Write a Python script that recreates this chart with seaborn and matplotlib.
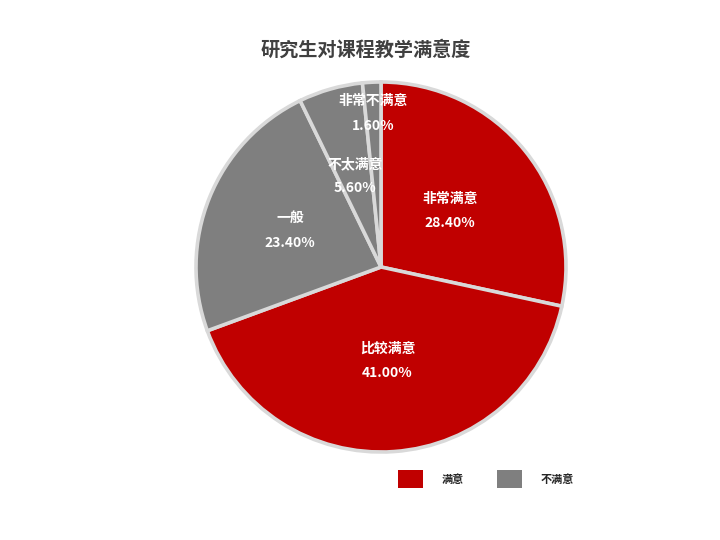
import matplotlib
matplotlib.use("Agg")
import matplotlib.pyplot as plt
import seaborn as sns
import numpy as np
from matplotlib.patches import Patch

categories = ["非常满意", "比较满意", "一般", "不太满意", "非常不满意"]
values = [28.4, 41.0, 23.4, 5.6, 1.6]
groups = ["满意", "满意", "不满意", "不满意", "不满意"]
legend_labels = ["满意", "不满意"]

sns.set_theme(style="white")
plt.rcParams['font.family'] = ['Noto Sans CJK SC', 'DejaVu Sans']

group_colors = {"满意": "#C00000", "不满意": "#7F7F7F"}
colors = [group_colors[g] for g in groups]

fig = plt.figure(figsize=(7.2, 5.4), dpi=100)
fig.patch.set_facecolor("white")
ax = fig.add_axes([(381 - 185) / 720, 1 - 452 / 540, 370 / 720, 370 / 540])

wedges, _ = ax.pie(values, colors=colors, startangle=90, counterclock=False,
                   wedgeprops=dict(edgecolor="#D9D9D9", linewidth=2.6))
for w in wedges:
    w.set_clip_on(False)
ax.set_xlim(-1, 1)
ax.set_ylim(-1, 1)
ax.set_aspect("equal")
ax.axis("off")

label_dist = [0.48, 0.51, 0.53, 0.51, 0.83]
for w, cat, val, d in zip(wedges, categories, values, label_dist):
    ang = np.deg2rad((w.theta1 + w.theta2) / 2)
    x, y = d * np.cos(ang), d * np.sin(ang)
    ax.text(x, y, f"{cat}\n{val:.2f}%", ha="center", va="center",
            color="white", fontsize=10, fontweight="bold", linespacing=1.95)

fig.text(366 / 720, 1 - 50 / 540, "研究生对课程教学满意度", ha="center", va="center",
         fontsize=13.8, fontweight="bold", color="#404040")

handles = [Patch(facecolor=group_colors[g], edgecolor="none") for g in legend_labels]
leg = fig.legend(handles, legend_labels, loc="center",
                 bbox_to_anchor=(486 / 720, 1 - 479 / 540), ncol=2, frameon=False,
                 handlelength=2.3, handleheight=2.1, handletextpad=1.7,
                 columnspacing=2.9, prop=dict(size=8, weight="bold"))

fig.savefig("out.png", dpi=100)
